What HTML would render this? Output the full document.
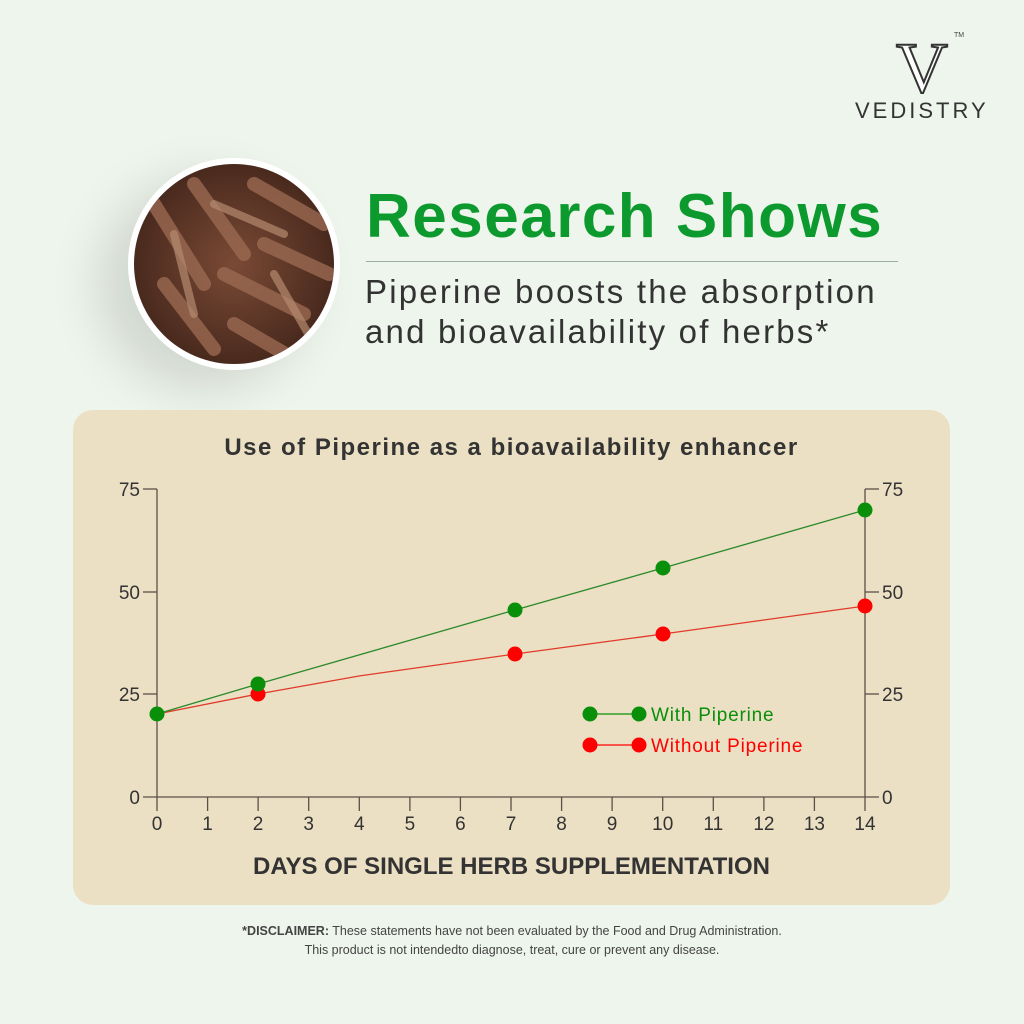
<!DOCTYPE html>
<html><head><style>
body{margin:0;width:1024px;height:1024px;background:#eef5ec;font-family:"Liberation Sans",sans-serif;position:relative;overflow:hidden}
.a{position:absolute}
</style></head><body>
<div class="a" style="left:128px;top:158px;width:212px;height:212px;border-radius:50%;background:#fff;box-shadow:-30px 20px 50px rgba(0,0,0,0.12)"></div>
<div class="a" style="left:134px;top:164px;width:200px;height:200px;border-radius:50%;background:radial-gradient(circle at 50% 50%,#7a4a35,#4a2a1e 70%,#3a2218);overflow:hidden">
<svg width="200" height="200">
<g stroke="#9a6a52" stroke-width="14" stroke-linecap="round" opacity="0.8">
<line x1="20" y1="40" x2="70" y2="120"/><line x1="60" y1="20" x2="110" y2="90"/><line x1="120" y1="20" x2="190" y2="60"/><line x1="30" y1="120" x2="80" y2="185"/><line x1="90" y1="110" x2="170" y2="150"/><line x1="100" y1="160" x2="160" y2="195"/><line x1="130" y1="80" x2="195" y2="110"/></g>
<g stroke="#b58a70" stroke-width="8" stroke-linecap="round" opacity="0.7">
<line x1="40" y1="70" x2="60" y2="150"/><line x1="140" y1="110" x2="180" y2="180"/><line x1="80" y1="40" x2="150" y2="70"/></g></svg></div>
<div class="a" style="left:876px;top:30px;width:92px;text-align:center;font-size:72px;font-family:'Liberation Serif',serif;color:#fff;-webkit-text-stroke:2px #333;line-height:76px">V</div>
<div class="a" style="left:954px;top:32px;font-size:7px;color:#444">TM</div>
<div class="a" style="left:855px;top:98px;font-size:22px;letter-spacing:3px;color:#333">VEDISTRY</div>
<div class="a" style="left:366px;top:181px;font-size:62px;font-weight:bold;color:#0c9a2e;letter-spacing:1.5px">Research Shows</div>
<div class="a" style="left:366px;top:261px;width:532px;height:1px;background:#9ab09a"></div>
<div class="a" style="left:365px;top:272px;font-size:33px;line-height:40px;color:#333;letter-spacing:2.2px">Piperine boosts the absorption<br>and bioavailability of herbs*</div>
<div class="a" style="left:73px;top:410px;width:877px;height:495px;border-radius:20px;background:#ece0c4"></div>
<div class="a" style="left:73px;top:434px;width:877px;text-align:center;font-size:24px;font-weight:bold;color:#333;letter-spacing:1.5px">Use of Piperine as a bioavailability enhancer</div>
<svg class="a" style="left:0;top:0" width="1024" height="1024" font-family="Liberation Sans" font-size="19" fill="#333">
<g stroke="#5a5048" stroke-width="1.3" fill="none">
<line x1="157" y1="489" x2="157" y2="797"/><line x1="865" y1="489" x2="865" y2="797"/>
<line x1="143" y1="797" x2="879" y2="797"/>
<line x1="143" y1="489" x2="157" y2="489"/><line x1="143" y1="592" x2="157" y2="592"/><line x1="143" y1="694" x2="157" y2="694"/>
<line x1="865" y1="489" x2="879" y2="489"/><line x1="865" y1="592" x2="879" y2="592"/><line x1="865" y1="694" x2="879" y2="694"/>
<path d="M157 797v14M207.6 797v14M258.1 797v14M308.7 797v14M359.3 797v14M409.9 797v14M460.4 797v14M511 797v14M561.6 797v14M612.1 797v14M662.7 797v14M713.3 797v14M763.9 797v14M814.4 797v14M865 797v14"/>
</g>
<g text-anchor="end"><text x="140" y="496">75</text><text x="140" y="599">50</text><text x="140" y="701">25</text><text x="140" y="804">0</text></g>
<g><text x="882" y="496">75</text><text x="882" y="599">50</text><text x="882" y="701">25</text><text x="882" y="804">0</text></g>
<g text-anchor="middle"><text x="157" y="830">0</text><text x="207.6" y="830">1</text><text x="258.1" y="830">2</text><text x="308.7" y="830">3</text><text x="359.3" y="830">4</text><text x="409.9" y="830">5</text><text x="460.4" y="830">6</text><text x="511" y="830">7</text><text x="561.6" y="830">8</text><text x="612.1" y="830">9</text><text x="662.7" y="830">10</text><text x="713.3" y="830">11</text><text x="763.9" y="830">12</text><text x="814.4" y="830">13</text><text x="865" y="830">14</text></g>
<polyline points="157,714 258,694 359,676 515,654 663,634 865,606" stroke="#e03a2a" stroke-width="1.3" fill="none"/>
<polyline points="157,714 258,684 515,610 663,568 865,510" stroke="#2a8a2a" stroke-width="1.3" fill="none"/>
<g fill="#ff0000"><circle cx="258" cy="694" r="7.5"/><circle cx="515" cy="654" r="7.5"/><circle cx="663" cy="634" r="7.5"/><circle cx="865" cy="606" r="7.5"/><circle cx="590" cy="745" r="7.5"/><circle cx="639" cy="745" r="7.5"/></g>
<g fill="#0a8f0a"><circle cx="157" cy="714" r="7.5"/><circle cx="258" cy="684" r="7.5"/><circle cx="515" cy="610" r="7.5"/><circle cx="663" cy="568" r="7.5"/><circle cx="865" cy="510" r="7.5"/><circle cx="590" cy="714" r="7.5"/><circle cx="639" cy="714" r="7.5"/></g>
<line x1="590" y1="714" x2="639" y2="714" stroke="#0a8f0a" stroke-width="1.3"/>
<line x1="590" y1="745" x2="639" y2="745" stroke="#ff0000" stroke-width="1.3"/>
<text x="651" y="721" fill="#0a8f0a" font-size="19" letter-spacing="0.8">With Piperine</text>
<text x="651" y="752" fill="#ff0000" font-size="19" letter-spacing="0.8">Without Piperine</text>
</svg>
<div class="a" style="left:73px;top:853px;width:877px;text-align:center;font-size:24px;font-weight:bold;color:#333">DAYS OF SINGLE HERB SUPPLEMENTATION</div>
<div class="a" style="left:0;top:922px;width:1024px;text-align:center;font-size:12.5px;line-height:19px;color:#444"><b>*DISCLAIMER:</b> These statements have not been evaluated by the Food and Drug Administration.<br>This product is not intendedto diagnose, treat, cure or prevent any disease.</div>
</body></html>
